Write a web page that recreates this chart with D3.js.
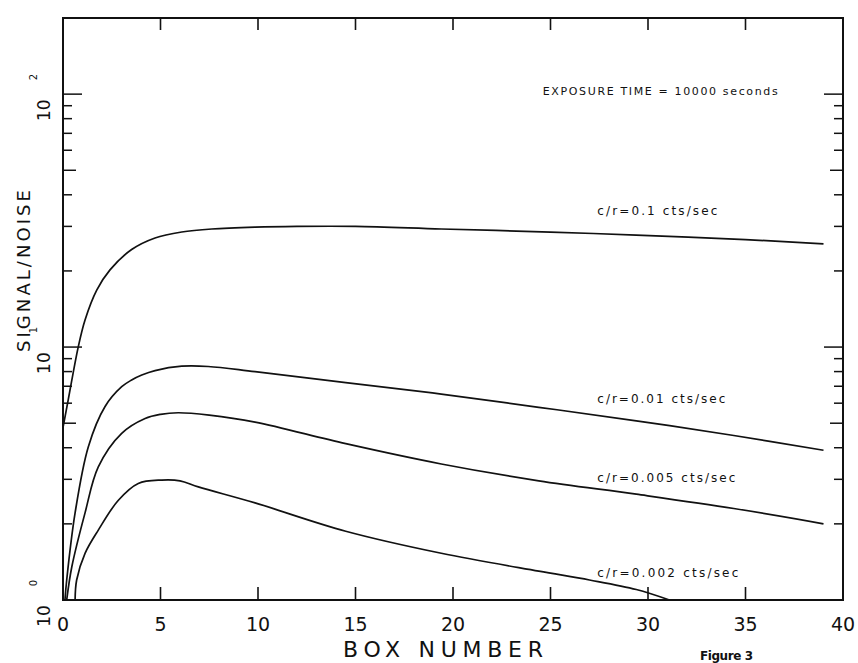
<!DOCTYPE html>
<html>
<head>
<meta charset="utf-8">
<script src="https://cdn.jsdelivr.net/npm/d3@7"></script>
<style>
  body { margin: 0; background: #fff; }
  text { font-family: 'DejaVu Sans', sans-serif; fill: #111; }
</style>
</head>
<body>
<div id="chart-area"></div>
<script>
// DATA
// =================
var xTicks = [0, 5, 10, 15, 20, 25, 30, 35, 40];
var yTicks = [1, 2, 3, 4, 5, 6, 7, 8, 9, 10, 20, 30, 40, 50, 60, 70, 80, 90, 100, 200];
var yMajor = [1, 10, 100];
var yExponents = ['0', '1', '2'];

var curveLabels = ['c/r=0.1 cts/sec', 'c/r=0.01 cts/sec', 'c/r=0.005 cts/sec', 'c/r=0.002 cts/sec'];
var labelBox = [27.4, 27.4, 27.4, 27.4];
var labelSN = [33.2, 6.0, 2.93, 1.23];

// c/r = 0.1
var boxA = [0, 0.27, 0.78, 1.13, 1.73, 2.41, 3.52, 4.72, 6.09, 7.63, 9.85, 12, 15, 19.4, 25, 29.4, 35, 39];
var snA = [4.8, 6.2, 10, 12.8, 16.8, 20.2, 24.3, 27.0, 28.5, 29.3, 29.8, 30.0, 30.0, 29.3, 28.5, 27.7, 26.6, 25.6];
// c/r = 0.01
var boxB = [0.1, 0.19, 0.62, 1.3, 2.15, 3.01, 3.52, 4.04, 4.72, 6.09, 7.45, 9.85, 14.5, 19.4, 24.4, 29.4, 34.4, 39];
var snB = [1.0, 1.2, 2.21, 4.04, 5.81, 6.97, 7.41, 7.75, 8.07, 8.4, 8.38, 7.99, 7.24, 6.52, 5.78, 5.11, 4.47, 3.91];
// c/r = 0.005
var boxC = [0.19, 0.45, 1.13, 1.81, 3.01, 4.21, 5.0, 5.91, 7.5, 9.85, 14.5, 19.4, 24.4, 29.4, 34.4, 39];
var snC = [1.0, 1.35, 2.21, 3.36, 4.56, 5.22, 5.42, 5.5, 5.38, 5.05, 4.15, 3.45, 2.96, 2.62, 2.3, 2.0];
// c/r = 0.002
var boxD = [0.62, 0.7, 1.13, 1.81, 2.84, 3.86, 5.06, 6.0, 6.94, 9.85, 14.5, 19.4, 24.4, 27.0, 29.4, 31.1];
var snD = [1.0, 1.2, 1.53, 1.89, 2.48, 2.89, 2.98, 2.96, 2.8, 2.42, 1.87, 1.53, 1.3, 1.2, 1.1, 1.0];

// CANVAS + MARGINS
// =================
var margin, width, height, svg, g;

margin = { left: 63, right: 15, top: 18, bottom: 63 };
width = 858 - margin.left - margin.right;
height = 663 - margin.top - margin.bottom;

svg = d3.select('#chart-area')
    .append('svg')
        .attr('width', 858)
        .attr('height', 663);

g = svg.append('g')
    .attr('transform', 'translate(' + margin.left + ', ' + margin.top + ')');

// SCALES
var x = d3.scaleLinear().domain([0, 40]).range([0, width]);
var y = d3.scaleLog().domain([1, 200]).range([height, 0]);

// FRAME
g.append('rect')
    .attr('x', 0)
    .attr('y', 0)
    .attr('width', width)
    .attr('height', height)
    .attr('fill', 'none')
    .attr('stroke', '#111')
    .attr('stroke-width', 2);

// X TICKS (bottom up, top down)
var innerX = xTicks.filter(d => d > 0 && d < 40);
g.selectAll('.xtick-b')
    .data(innerX)
    .enter().append('line')
        .attr('x1', d => x(d)).attr('x2', d => x(d))
        .attr('y1', height).attr('y2', height - 13)
        .attr('stroke', '#111').attr('stroke-width', 1.6);
g.selectAll('.xtick-t')
    .data(innerX)
    .enter().append('line')
        .attr('x1', d => x(d)).attr('x2', d => x(d))
        .attr('y1', 0).attr('y2', 12)
        .attr('stroke', '#111').attr('stroke-width', 1.6);

g.selectAll('.xlabel')
    .data(xTicks)
    .enter().append('text')
        .attr('x', d => x(d))
        .attr('y', height + 31)
        .attr('text-anchor', 'middle')
        .attr('font-size', '19px')
        .text(d => d);

// Y TICKS (left and right, inward)
function tickLen(d) {
    if (yMajor.indexOf(d) >= 0) return 19;
    var lead = d / Math.pow(10, Math.floor(Math.log10(d) + 1e-9));
    return Math.round(lead) === 5 ? 13 : 9;
}
var innerY = yTicks.filter(d => d > 1 && d < 200);
g.selectAll('.ytick-l')
    .data(innerY)
    .enter().append('line')
        .attr('x1', 0).attr('x2', d => tickLen(d))
        .attr('y1', d => y(d)).attr('y2', d => y(d))
        .attr('stroke', '#111').attr('stroke-width', 1.5);
g.selectAll('.ytick-r')
    .data(innerY)
    .enter().append('line')
        .attr('x1', width).attr('x2', d => width - tickLen(d))
        .attr('y1', d => y(d)).attr('y2', d => y(d))
        .attr('stroke', '#111').attr('stroke-width', 1.5);

// Y LABELS: 10 with exponent, rotated
g.selectAll('.ylabel')
    .data(yMajor)
    .enter().append('text')
        .attr('transform', d => 'translate(-13,' + (y(d) + 16) + ') rotate(-90)')
        .attr('text-anchor', 'middle')
        .attr('font-size', '17px')
        .text('10');
g.selectAll('.yexp')
    .data(yMajor)
    .enter().append('text')
        .attr('transform', d => 'translate(-26,' + (y(d) - 17) + ') rotate(-90)')
        .attr('text-anchor', 'middle')
        .attr('font-size', '10px')
        .text((d, i) => yExponents[i]);

// AXIS TITLES
svg.append('text')
    .attr('transform', 'translate(30, 271) rotate(-90)')
    .attr('text-anchor', 'middle')
    .attr('font-size', '18px')
    .attr('textLength', 162)
    .attr('lengthAdjust', 'spacing')
    .text('SIGNAL/NOISE');

svg.append('text')
    .attr('x', 343)
    .attr('y', 657)
    .attr('font-size', '22px')
    .attr('textLength', 200)
    .attr('lengthAdjust', 'spacing')
    .text('BOX NUMBER');

svg.append('text')
    .attr('x', 700)
    .attr('y', 660)
    .attr('font-size', '12px')
    .attr('font-weight', 'bold')
    .attr('textLength', 53)
    .attr('lengthAdjust', 'spacing')
    .text('Figure 3');

// CURVES
var line = d3.line()
    .x(d => x(d[0]))
    .y(d => y(d[1]))
    .curve(d3.curveCatmullRom.alpha(0.5));

var series = [
    d3.zip(boxA, snA),
    d3.zip(boxB, snB),
    d3.zip(boxC, snC),
    d3.zip(boxD, snD)
];

g.selectAll('.curve')
    .data(series)
    .enter().append('path')
        .attr('d', line)
        .attr('fill', 'none')
        .attr('stroke', '#111')
        .attr('stroke-width', 1.7);

// ANNOTATIONS
var labelWidths = [120, 128, 138, 141];
g.selectAll('.clabel')
    .data(curveLabels)
    .enter().append('text')
        .attr('x', (d, i) => x(labelBox[i]))
        .attr('y', (d, i) => y(labelSN[i]))
        .attr('font-size', '12px')
        .attr('textLength', (d, i) => labelWidths[i])
        .attr('lengthAdjust', 'spacing')
        .text(d => d);

g.append('text')
    .attr('x', x(24.6))
    .attr('y', y(99))
    .attr('font-size', '11px')
    .attr('textLength', 235)
    .attr('lengthAdjust', 'spacing')
    .text('EXPOSURE TIME = 10000 seconds');
</script>
</body>
</html>
